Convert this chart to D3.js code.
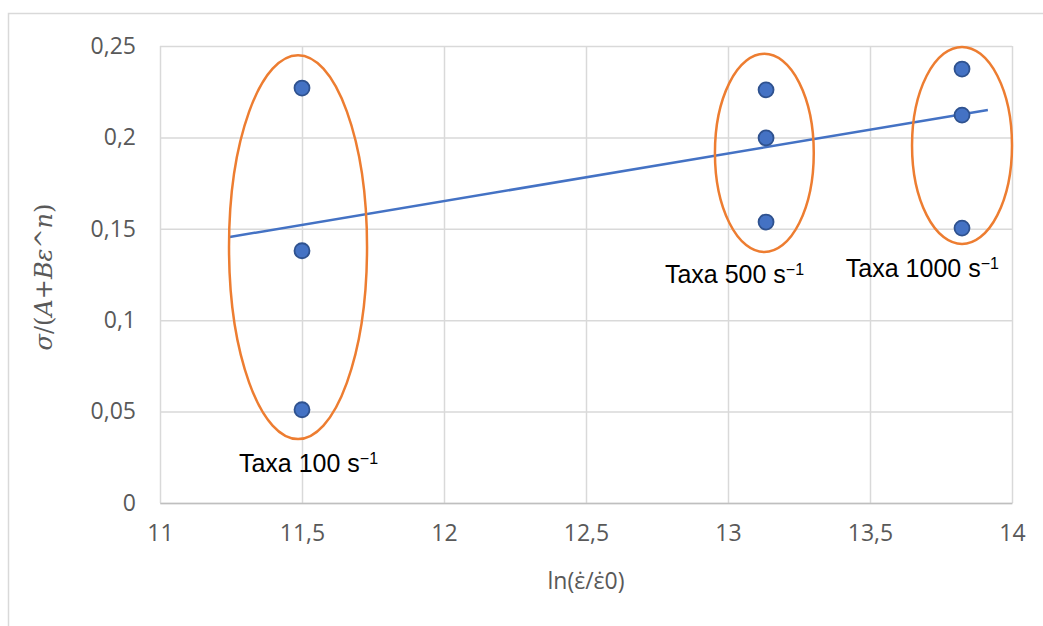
<!DOCTYPE html>
<html>
    <head>
        <meta charset="utf-8">
        <script src="https://d3js.org/d3.v7.min.js"></script>
    </head>
    <style>
        body {
            margin: 0;
            background: #fff;
        }
    </style>
    <body>
        <div id="chart"></div>
        <script>

            // Data
            const xTicks = [11, 11.5, 12, 12.5, 13, 13.5, 14];
            const yTicks = [0, 0.05, 0.1, 0.15, 0.2, 0.25];
            const pointX = [11.5, 11.5, 11.5, 13.134, 13.134, 13.134, 13.824, 13.824, 13.824];
            const pointY = [0.227, 0.138, 0.051, 0.226, 0.1997, 0.1537, 0.2374, 0.2122, 0.1504];
            const trendX = [11.245, 13.915];
            const trendY = [0.1455, 0.215];

            // Groups circled in orange, and their labels
            const groupNames = ["Taxa 100 s", "Taxa 500 s", "Taxa 1000 s"];
            const groupCx = [11.486, 13.128, 13.824];
            const groupCy = [0.140, 0.1915, 0.1956];
            const groupRx = [0.243, 0.174, 0.176];
            const groupRy = [0.105, 0.0542, 0.0539];
            const labelX = [11.278, 12.778, 13.415];
            const labelY = [0.017, 0.1204, 0.1236];

            const width = 1043, height = 626;
            const margin = {left: 160, top: 46, right: 31, bottom: 123};

            const svg = d3.select("#chart")
                .append("svg")
                .attr("width", width)
                .attr("height", height);

            // Outer chart frame
            svg.append("rect")
                .attr("x", 8.5).attr("y", 13.5)
                .attr("width", width + 20).attr("height", height + 20)
                .attr("fill", "none")
                .attr("stroke", "#d9d9d9")
                .attr("stroke-width", 1.5);

            const x = d3.scaleLinear().domain([11, 14]).range([margin.left, width - margin.right]);
            const y = d3.scaleLinear().domain([0, 0.25]).range([height - margin.bottom, margin.top]);

            const fmt = d => String(d).replace(".", ",");

            // Gridlines
            svg.append("g")
                .attr("transform", `translate(0,${margin.top})`)
                .call(d3.axisBottom(x).tickValues(xTicks).tickSize(y(0) - margin.top).tickFormat(""))
                .call(g => g.select(".domain").remove())
                .call(g => g.selectAll("line").attr("stroke", "#d9d9d9").attr("stroke-width", 1.5));

            svg.append("g")
                .attr("transform", `translate(${margin.left},0)`)
                .call(d3.axisRight(y).tickValues(yTicks).tickSize(x(14) - margin.left).tickFormat(""))
                .call(g => g.select(".domain").remove())
                .call(g => g.selectAll("line").attr("stroke", "#d9d9d9").attr("stroke-width", 1.5));

            // X axis
            svg.append("g")
                .attr("transform", `translate(0,${y(0)})`)
                .call(d3.axisBottom(x).tickValues(xTicks).tickSize(0).tickPadding(22).tickFormat(fmt))
                .call(g => g.select(".domain").attr("stroke", "#bfbfbf").attr("stroke-width", 1.5))
                .call(g => g.selectAll("text")
                    .attr("fill", "#595959")
                    .style("font-family", "'Open Sans', sans-serif")
                    .style("font-size", "23px"));

            // Y axis
            svg.append("g")
                .attr("transform", `translate(${margin.left},0)`)
                .call(d3.axisLeft(y).tickValues(yTicks).tickSize(0).tickPadding(24).tickFormat(fmt))
                .call(g => g.select(".domain").remove())
                .call(g => g.selectAll("text")
                    .attr("fill", "#595959")
                    .style("font-family", "'Open Sans', sans-serif")
                    .style("font-size", "23px"));

            // Axis titles
            svg.append("text")
                .attr("x", 586).attr("y", 589)
                .attr("text-anchor", "middle")
                .attr("fill", "#595959")
                .style("font-family", "'Open Sans', sans-serif")
                .style("font-size", "23px")
                .text("ln(\u03b5\u0307/\u03b5\u03070)");

            const yTitle = svg.append("text")
                .attr("transform", "translate(52,277) rotate(-90)")
                .attr("text-anchor", "middle")
                .attr("fill", "#595959")
                .style("font-family", "'DejaVu Serif', serif")
                .style("font-size", "24px");
            [["\u03c3", true], ["/(", false], ["A", true], ["+", false], ["B\u03b5", true], ["^", false], ["n", true], [")", false]]
                .forEach(([t, it]) => yTitle.append("tspan").attr("font-style", it ? "italic" : "normal").text(t));

            // Trend line
            svg.append("line")
                .attr("x1", x(trendX[0])).attr("y1", y(trendY[0]))
                .attr("x2", x(trendX[1])).attr("y2", y(trendY[1]))
                .attr("stroke", "#4472c4")
                .attr("stroke-width", 2.5);

            // Points
            svg.selectAll("circle.pt")
                .data(pointX)
                .join("circle")
                .attr("class", "pt")
                .attr("cx", d => x(d))
                .attr("cy", (d, i) => y(pointY[i]))
                .attr("r", 7.5)
                .attr("fill", "#4472c4")
                .attr("stroke", "#2f528f")
                .attr("stroke-width", 1.8);

            // Orange ellipses
            svg.selectAll("ellipse")
                .data(groupCx)
                .join("ellipse")
                .attr("cx", d => x(d))
                .attr("cy", (d, i) => y(groupCy[i]))
                .attr("rx", (d, i) => x(11 + groupRx[i]) - x(11))
                .attr("ry", (d, i) => y(0) - y(groupRy[i]))
                .attr("fill", "none")
                .attr("stroke", "#ed7d31")
                .attr("stroke-width", 2.5);

            // Group labels
            const labels = svg.selectAll("text.lab")
                .data(groupNames)
                .join("text")
                .attr("class", "lab")
                .attr("x", (d, i) => x(labelX[i]))
                .attr("y", (d, i) => y(labelY[i]))
                .attr("fill", "#000")
                .style("font-family", "'Liberation Sans', Arial, sans-serif")
                .style("font-size", "25px");
            labels.append("tspan").text(d => d);
            labels.append("tspan")
                .attr("dy", -8)
                .style("font-size", "16px")
                .text("\u22121");

        </script>
    </body>
</html>
